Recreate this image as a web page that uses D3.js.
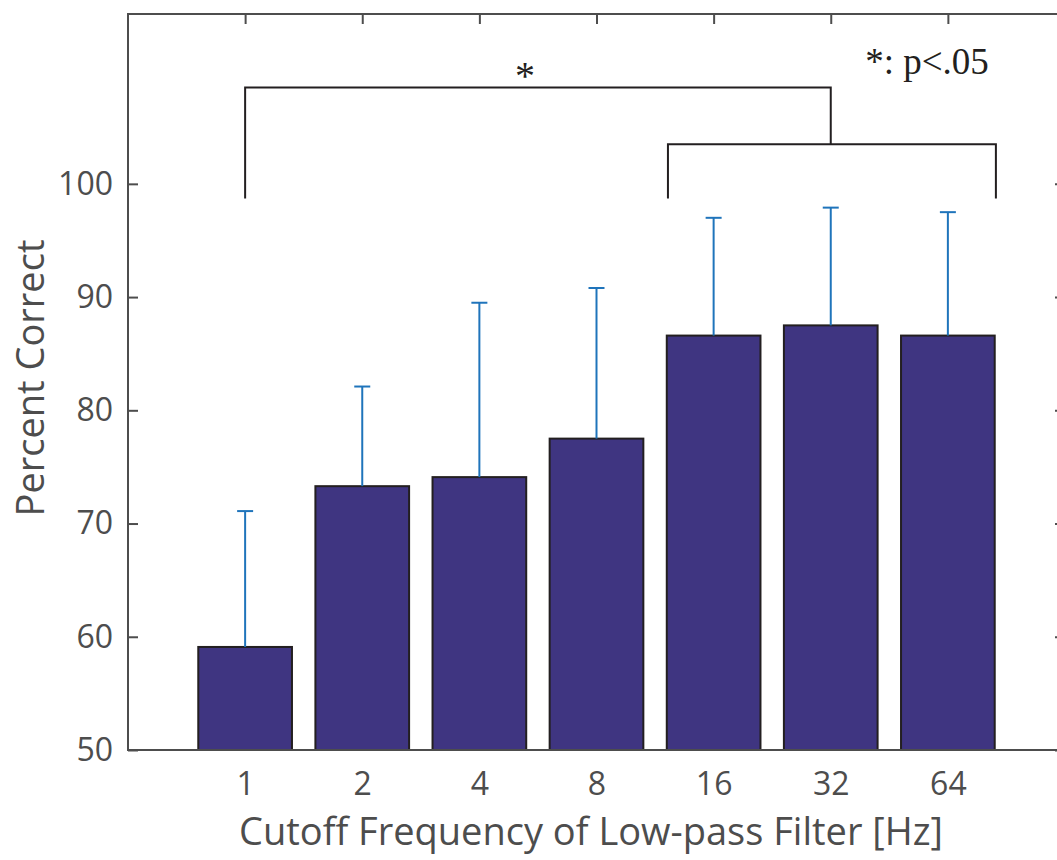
<!DOCTYPE html>
<html><head><meta charset="utf-8">
<script src="https://cdn.jsdelivr.net/npm/d3@7/dist/d3.min.js"></script>
<style>body{margin:0;background:#fff;overflow:hidden}svg{display:block}</style>
</head><body>
<svg id="chart" width="1057" height="860"></svg>
<script>
const categories = ["1","2","4","8","16","32","64"];
const meanValues = [59.1, 73.3, 74.1, 77.5, 86.6, 87.5, 86.6];
const upperErrors = [71.1, 82.1, 89.5, 90.8, 97.0, 97.9, 97.5];
const yTicks = [50, 60, 70, 80, 90, 100];

(function () {
const svg = d3.select("#chart");
const mLeft = 128, mRight = 1065, mTop = 14, mBottom = 750;
const x = d3.scaleLinear().domain([0, categories.length + 1]).range([mLeft, mRight]);
const y = d3.scaleLinear().domain([50, 115]).range([mBottom, mTop]);
const axisColor = "#4d4d4d";
const font = "'Open Sans', 'Noto Sans', sans-serif";

// bars
const bw = x(0.8) - x(0);
svg.append("g").selectAll("rect").data(meanValues).join("rect")
  .attr("x", (d, i) => x(i + 1) - bw / 2)
  .attr("y", d => y(d))
  .attr("width", bw)
  .attr("height", d => y(50) - y(d))
  .attr("fill", "#3f3581")
  .attr("stroke", "#231f20")
  .attr("stroke-width", 2);

// error bars (upper only)
const eg = svg.append("g").attr("stroke", "#1f74bb").attr("stroke-width", 2);
meanValues.forEach((m, i) => {
  const cx = x(i + 1);
  eg.append("line").attr("x1", cx).attr("x2", cx).attr("y1", y(m)).attr("y2", y(upperErrors[i]));
  eg.append("line").attr("x1", cx - 8).attr("x2", cx + 8).attr("y1", y(upperErrors[i])).attr("y2", y(upperErrors[i]));
});

// axes box
const ax = svg.append("g").attr("stroke", axisColor).attr("stroke-width", 2).attr("fill", "none");
ax.append("rect").attr("x", mLeft).attr("y", mTop).attr("width", mRight - mLeft).attr("height", mBottom - mTop);

// left axis
const yAxis = d3.axisLeft(y).tickValues(yTicks).tickSize(-10).tickPadding(15);
const gy = svg.append("g").attr("transform", `translate(${mLeft},0)`).call(yAxis);
gy.select(".domain").remove();
gy.selectAll("line").attr("stroke", axisColor).attr("stroke-width", 2);
gy.selectAll("text").attr("fill", axisColor).style("font-family", font).style("font-size", "32px");

// right axis ticks
const gyr = svg.append("g").attr("transform", `translate(${mRight},0)`).call(d3.axisRight(y).tickValues(yTicks).tickSize(-10).tickFormat(""));
gyr.select(".domain").remove();
gyr.selectAll("line").attr("stroke", axisColor).attr("stroke-width", 2);

// bottom axis
const xAxis = d3.axisBottom(x).tickValues(d3.range(1, categories.length + 1)).tickFormat((d) => categories[d - 1]).tickSize(-10).tickPadding(22);
const gx = svg.append("g").attr("transform", `translate(0,${mBottom})`).call(xAxis);
gx.select(".domain").remove();
gx.selectAll("line").attr("stroke", "none");
gx.selectAll("text").attr("fill", axisColor).style("font-family", font).style("font-size", "32px");

// top ticks
const gt = svg.append("g").attr("transform", `translate(0,${mTop})`).call(d3.axisTop(x).tickValues(d3.range(1, categories.length + 1)).tickSize(-10).tickFormat(""));
gt.select(".domain").remove();
gt.selectAll("line").attr("stroke", axisColor).attr("stroke-width", 2);

// axis labels
svg.append("text").attr("x", 591).attr("y", 845).attr("text-anchor", "middle")
  .attr("fill", axisColor).style("font-family", font).style("font-size", "38px")
  .text("Cutoff Frequency of Low-pass Filter [Hz]");
svg.append("text").attr("transform", `translate(44,378) rotate(-90)`).attr("text-anchor", "middle")
  .attr("fill", axisColor).style("font-family", font).style("font-size", "38px")
  .text("Percent Correct");

// significance brackets
const br = svg.append("g").attr("stroke", "#231f20").attr("stroke-width", 2).attr("fill", "none");
br.append("path").attr("d", `M${x(1)},${y(98.7)}V${y(108.5)}H${x(6)}V${y(103.5)}`);
br.append("path").attr("d", `M${x(4.61)},${y(98.7)}V${y(103.5)}H${x(7.41)}V${y(98.7)}`);
svg.append("text").attr("x", x(3.39)).attr("y", y(108.4)).attr("text-anchor", "middle")
  .attr("fill", "#231f20").style("font-family", "'Liberation Serif', serif").style("font-size", "40px").text("*");
svg.append("text").attr("x", 927).attr("y", 74).attr("text-anchor", "middle")
  .attr("fill", "#231f20").style("font-family", "'Liberation Serif', serif").style("font-size", "37px").text("*: p<.05");
})();
</script>
</body></html>
